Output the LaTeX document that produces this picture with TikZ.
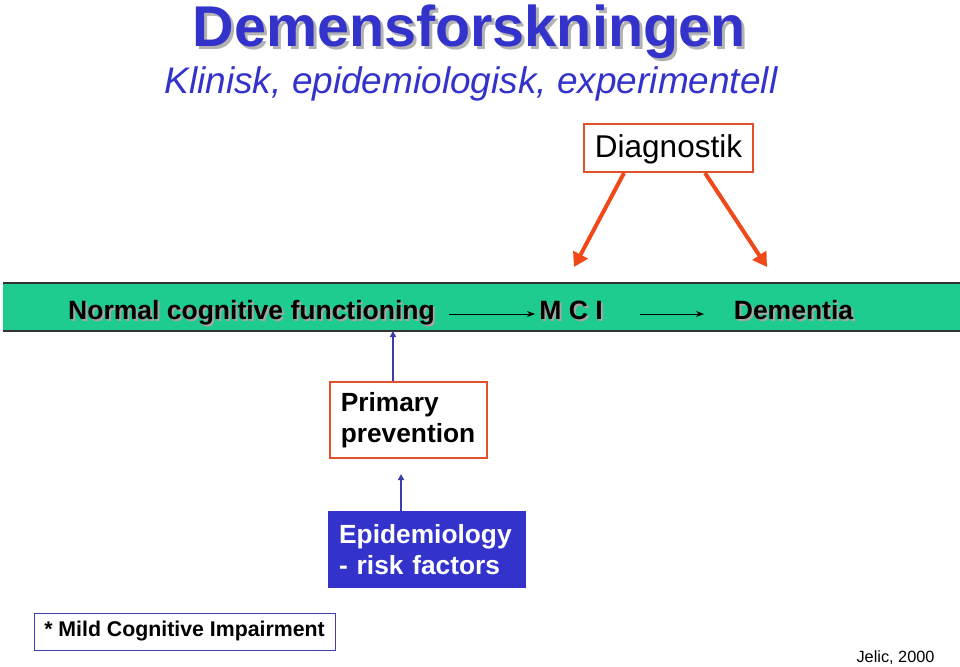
\documentclass[tikz,border=0pt]{standalone}
\usepackage{fontspec}
\setmainfont{Liberation Sans}
\usetikzlibrary{arrows.meta}
\definecolor{ttlblue}{RGB}{51,51,204}
\definecolor{boxred}{RGB}{226,80,44}
\definecolor{arrred}{RGB}{240,72,24}
\definecolor{band}{RGB}{30,204,144}
\definecolor{lnblue}{RGB}{60,60,170}
\begin{document}
\begin{tikzpicture}[x=1pt,y=-1pt,
  redbox/.style={draw=boxred,line width=1.6pt,fill=white},
  bandtxt/.style={font=\fontsize{26.5}{28}\selectfont\bfseries,text=black,anchor=base},
  bandshadow/.style={font=\fontsize{26.5}{28}\selectfont\bfseries,text=black!35,anchor=base},
  redarr/.style={draw=arrred,line width=4pt,-{Triangle[length=14pt,width=16pt]}},
  blkarr/.style={draw=black,line width=0.9pt,-{Stealth[length=8pt,width=6pt]}},
  bluarr/.style={draw=lnblue,line width=1.5pt,-{Triangle[length=6pt,width=6pt]}}]
\useasboundingbox (0,0) rectangle (960,666);
% title
\node[font=\fontsize{57.5}{60}\selectfont\bfseries,text=black!30,anchor=base] (tshadow) at (472,50) {Demensforskningen};
\node[font=\fontsize{57.5}{60}\selectfont\bfseries,text=ttlblue,anchor=base] (title) at (469,47) {Demensforskningen};
\node[font=\fontsize{37}{39}\selectfont\itshape,text=ttlblue,anchor=base] (sub) at (471,94) {Klinisk, epidemiologisk, experimentell};
% diagnostik
\node[redbox,minimum width=169pt,minimum height=48pt,font=\fontsize{31.5}{33}\selectfont,text depth=3pt] (diag) at (668.5,148) {Diagnostik};
% band
\path[fill=band] (3,283) rectangle (960,331);
\draw[line width=1.2pt,black!80] (3,283) -- (960,283);
\draw[line width=1.2pt,black!80] (3,331) -- (960,331);
\node[bandshadow] (ncfs) at (253.5,321) {Normal cognitive functioning};
\node[bandtxt] (ncf) at (251.5,319) {Normal cognitive functioning};
\node[bandshadow] (mcis) at (573,321) {M C I};
\node[bandtxt] (mci) at (571,319) {M C I};
\node[bandshadow] (dems) at (795.5,321) {Dementia};
\node[bandtxt] (dem) at (793.5,319) {Dementia};
\coordinate (a1s) at (449,314); \coordinate (a1e) at (535,314);
\coordinate (a2s) at (640,314); \coordinate (a2e) at (704,314);
\draw[blkarr] (a1s) -- (a1e);
\draw[blkarr] (a2s) -- (a2e);
% diagnostik arrows
\coordinate (d1) at (574,267); \coordinate (d2) at (767,267);
\draw[redarr] (624,173) -- (d1);
\draw[redarr] (705,173) -- (d2);
% primary prevention
\node[redbox,minimum width=157pt,minimum height=76pt,align=left,font=\fontsize{26.3}{31}\selectfont\bfseries,anchor=north west,text width=135pt,inner xsep=11pt] (pp) at (329,381) {Primary\\prevention};
\coordinate (bandb) at (393,331);
\draw[bluarr] (pp.north -| bandb) -- (bandb);
% epidemiology
\node[fill=ttlblue,draw=ttlblue,minimum width=197pt,minimum height=76pt,align=left,text=white,font=\fontsize{26.3}{31}\selectfont\bfseries,anchor=north west,text width=175pt,inner xsep=11pt] (epi) at (328,511) {Epidemiology\\- risk factors};
\coordinate (ppb) at (401,457);
\draw[bluarr] (epi.north -| ppb) -- ([yshift=-17pt]ppb);
% footnote
\node[draw=lnblue,line width=1pt,minimum width=301pt,minimum height=37pt,font=\fontsize{21.3}{23}\selectfont\bfseries] (mild) at (184.5,631.5) {* Mild Cognitive Impairment};
\node[font=\fontsize{16.3}{18}\selectfont,anchor=base] (jelic) at (895.5,662) {Jelic, 2000};
\end{tikzpicture}
\end{document}
